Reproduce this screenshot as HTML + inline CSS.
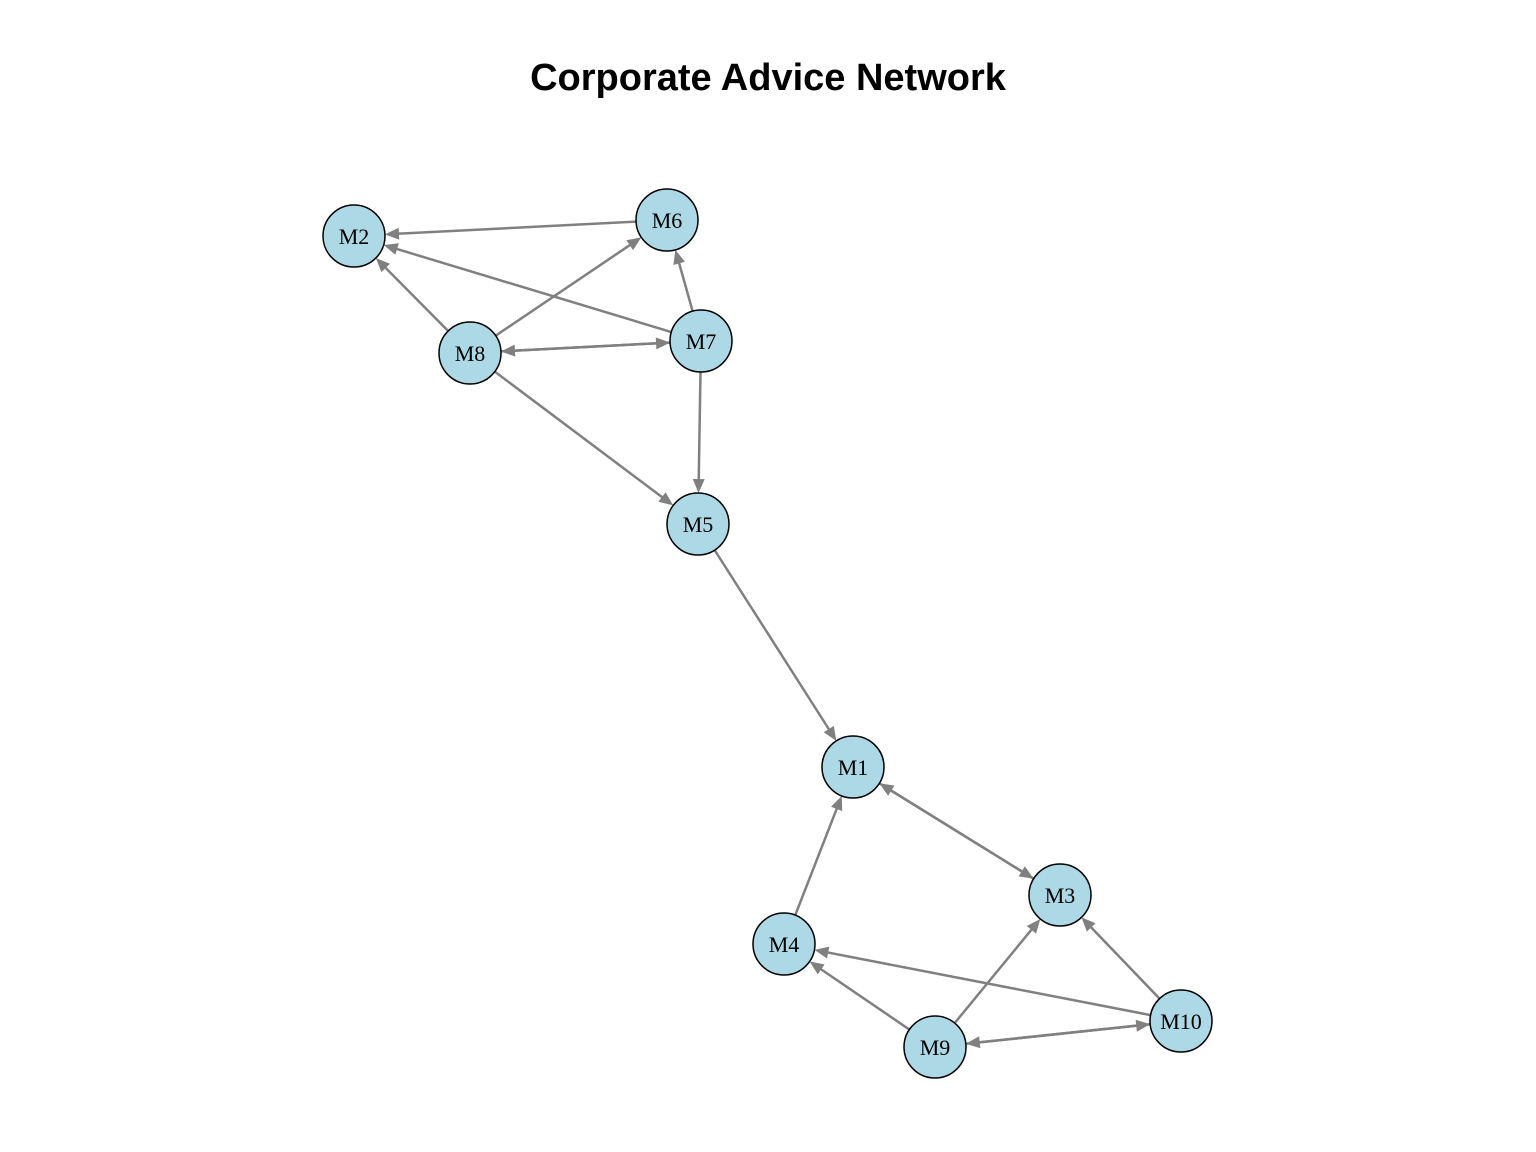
<!DOCTYPE html>
<html><head><meta charset="utf-8"><style>
html,body{margin:0;padding:0;background:#fff;width:1536px;height:1152px;overflow:hidden}
</style></head><body>
<svg id="s" width="1536" height="1152" xmlns="http://www.w3.org/2000/svg">
<text x="768" y="90" text-anchor="middle" font-family="Liberation Sans, sans-serif" font-weight="bold" font-size="38">Corporate Advice Network</text>
<g id="e"></g><g id="n"></g>
</svg>
<script>
var N={M2:[354,236],M6:[667,220],M7:[701,341],M8:[470,353],M5:[698,524],M1:[853,767],M3:[1060,895],M4:[784,944],M9:[935,1047],M10:[1181,1021]};
var E=[["M6","M2"],["M7","M2"],["M8","M2"],["M8","M6"],["M7","M6"],["M8","M7"],["M7","M8"],["M8","M5"],["M7","M5"],["M5","M1"],["M1","M3"],["M3","M1"],["M4","M1"],["M10","M4"],["M9","M4"],["M9","M3"],["M10","M3"],["M9","M10"],["M10","M9"]];
var R=31,ns="http://www.w3.org/2000/svg",ge=document.getElementById("e"),gn=document.getElementById("n");
function el(t,a,p){var x=document.createElementNS(ns,t);for(var k in a)x.setAttribute(k,a[k]);p.appendChild(x);return x;}
E.forEach(function(p){var a=N[p[0]],b=N[p[1]],dx=b[0]-a[0],dy=b[1]-a[1],L=Math.hypot(dx,dy),ux=dx/L,uy=dy/L;
var sx=a[0]+ux*R,sy=a[1]+uy*R,tx=b[0]-ux*R,ty=b[1]-uy*R,bx=tx-ux*14,by=ty-uy*14,px=-uy,py=ux;
el("line",{x1:sx,y1:sy,x2:bx+ux*2,y2:by+uy*2,stroke:"#808080","stroke-width":2.5},ge);
el("polygon",{points:tx+","+ty+" "+(bx+px*6)+","+(by+py*6)+" "+(bx-px*6)+","+(by-py*6),fill:"#808080"},ge);});
for(var k in N){el("circle",{cx:N[k][0],cy:N[k][1],r:R,fill:"#add8e6",stroke:"#000","stroke-width":1.5},gn);
var t=el("text",{x:N[k][0],y:N[k][1]+8,"text-anchor":"middle","font-family":"Liberation Serif, serif","font-size":"22"},gn);t.textContent=k;}
</script>
</body></html>
